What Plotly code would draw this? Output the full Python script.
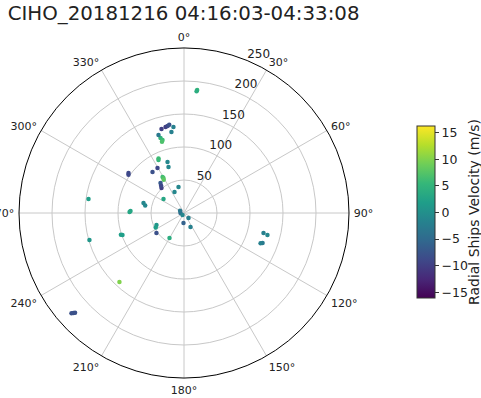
import plotly.graph_objects as go

# Ship detections: range (km), bearing (deg, clockwise from north), radial velocity (m/s)
ranges = [187.6, 185.6, 131.6, 133.4, 134.2, 135.5, 131.3, 124.2, 119.1, 115.3, 112.9, 124.3,
          89.2, 91.3, 79.1, 78.4, 63.5, 61.5, 58.9, 57.7, 51.0, 54.0, 81.2, 73.6, 103.7, 102.1,
          40.3, 34.9, 37.6, 63.2, 59.9, 81.1, 82.5, 146.2, 5.3, 3.8, 6.9, 10.2, 15.1, 23.4,
          45.5, 48.1, 51.6, 43.8, 99.0, 101.1, 149.0, 143.2, 124.2, 130.8, 127.4, 124.7,
          223.9, 225.9, 228.3]
bearings = [6.1, 5.9, 345, 347.9, 349.3, 350.5, 353, 351.2, 342.6, 343.6, 342.8, 341.9,
            334.3, 335, 329.5, 322.5, 329.2, 329.6, 328.5, 321.9, 318, 320, 342.1, 341.4,
            305.8, 304.5, 348.1, 335.7, 304.3, 283.9, 281, 272.1, 271, 278.3, 270, 217,
            300, 138, 183, 155.1, 246.4, 243, 234, 210.1, 250.3, 251, 254.1, 223.1,
            104.1, 104.8, 110.9, 111.5, 227.5, 227.9, 228.3]
velocities = [5, 4, -10, -10, -9, -8, -2, -2, 5, 6, 7, -3,
              5, 6, -9, -8, 6, 7, 8, -7, -10, -9, -1, -1,
              -9, -9, -1, -1, 3, -1, -1, 3, 3, 2, -5, -1,
              -3, -2, -6, -2, 1, 2, -8, 4, 2, 2, 1, 10,
              -2, -1, -3, -2, -8, -8, -8]

angle_ticks = list(range(0, 360, 30))
angle_labels = [f"{a}°" for a in angle_ticks]
range_ticks = [50, 100, 150, 200, 250]
range_labels = [str(t) for t in range_ticks]
cbar_ticks = [-15, -10, -5, 0, 5, 10, 15]

# radial tick labels hang off each ring on the 22.5° spoke
label_bearing = 22.5

fig = go.Figure()
fig.add_trace(go.Scatterpolar(
    r=ranges,
    theta=bearings,
    mode="markers",
    marker=dict(
        size=4.5,
        color=velocities,
        colorscale="Viridis",
        cmin=-16.1,
        cmax=16.3,
        line=dict(width=0),
        colorbar=dict(
            x=417 / 481, xanchor="left", xpad=0,
            y=1 - 212 / 398, yanchor="middle", ypad=0,
            len=172 / 398, lenmode="fraction",
            thickness=18,
            outlinewidth=1, outlinecolor="#333",
            tickvals=cbar_ticks,
            ticks="outside", ticklen=4, tickcolor="#333",
            tickfont=dict(size=12.5, color="#222"),
        ),
    ),
    showlegend=False,
))
fig.add_trace(go.Scatterpolar(
    r=range_ticks,
    theta=[label_bearing] * len(range_ticks),
    mode="text",
    text=range_labels,
    textposition="top right",
    textfont=dict(size=12, color="#222"),
    cliponaxis=False,
    showlegend=False,
    hoverinfo="skip",
))

fig.update_layout(
    width=481, height=398,
    margin=dict(l=0, r=0, t=0, b=0, autoexpand=False),
    paper_bgcolor="white",
    font=dict(family="DejaVu Sans", color="#222"),
    title=dict(text="CIHO_20181216 04:16:03-04:33:08", x=0.016, xanchor="left",
               y=0.985, yanchor="top", font=dict(size=19.8, color="#222")),
    annotations=[dict(
        text="Radial Ships Velocity (m/s)", textangle=-90,
        xref="paper", yref="paper", x=474 / 481, y=1 - 212 / 398,
        xanchor="center", yanchor="middle", showarrow=False,
        font=dict(size=14, color="#222"),
    )],
    polar=dict(
        domain=dict(x=[19 / 481, 349 / 481], y=[20 / 398, 350 / 398]),
        bgcolor="white",
        angularaxis=dict(
            rotation=90, direction="clockwise",
            tickvals=angle_ticks, ticktext=angle_labels,
            showline=True, linecolor="black", linewidth=1,
            gridcolor="#c8c8c8", gridwidth=0.8,
            ticks="outside", ticklen=2, tickcolor="rgba(0,0,0,0)",
            tickfont=dict(size=11, color="#222"),
        ),
        radialaxis=dict(
            range=[0, 250], tickvals=range_ticks,
            showticklabels=False,
            showline=False, ticks="",
            gridcolor="#c8c8c8", gridwidth=0.8,
        ),
    ),
)

fig.write_html("out.html")
